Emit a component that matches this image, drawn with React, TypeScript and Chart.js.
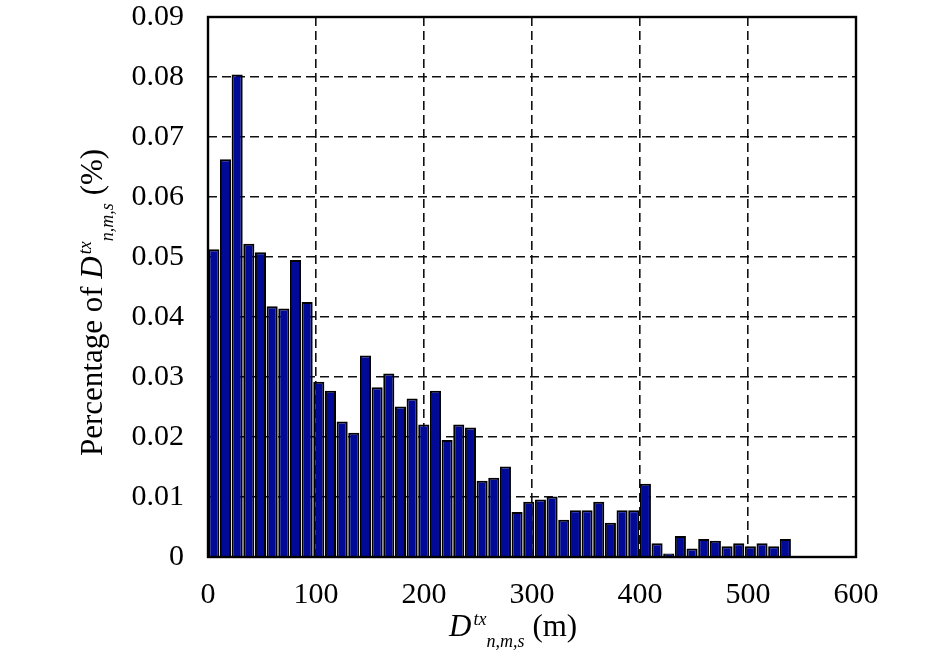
import { useEffect, useRef } from "react"
import { Chart, registerables } from "chart.js"

Chart.register(...registerables)

// bin centres (m) of the histogram, bins of 10.8 m
const binCenters = [
  5.4, 16.2, 27, 37.8, 48.6, 59.4, 70.2, 81, 91.8, 102.6,
  113.4, 124.2, 135, 145.8, 156.6, 167.4, 178.2, 189, 199.8, 210.6,
  221.4, 232.2, 243, 253.8, 264.6, 275.4, 286.2, 297, 307.8, 318.6,
  329.4, 340.2, 351, 361.8, 372.6, 383.4, 394.2, 405, 415.8, 426.6,
  437.4, 448.2, 459, 469.8, 480.6, 491.4, 502.2, 513, 523.8, 534.6,
]

const percentages = [
  0.0513, 0.0663, 0.0804, 0.0522, 0.0508, 0.0418, 0.0414, 0.0495, 0.0425, 0.0292,
  0.0277, 0.0226, 0.0207, 0.0336, 0.0283, 0.0306, 0.0251, 0.0264, 0.0221, 0.0277,
  0.0195, 0.0221, 0.0216, 0.0127, 0.0132, 0.0151, 0.0075, 0.0092, 0.0096, 0.0101,
  0.0062, 0.0078, 0.0078, 0.0092, 0.0057, 0.0078, 0.0078, 0.0122, 0.0023, 0.0006,
  0.0035, 0.0014, 0.003, 0.0027, 0.0018, 0.0023, 0.0018, 0.0023, 0.0018, 0.003,
]

const xTicks = [0, 100, 200, 300, 400, 500, 600]
const yTickLabels = ["0", "0.01", "0.02", "0.03", "0.04", "0.05", "0.06", "0.07", "0.08", "0.09"]

const FONT = "'Liberation Serif', 'Times New Roman', serif"

// draws prefix + italic D with superscript "tx" and subscript "n,m,s" + suffix, baseline at (0,0)
function drawSymbolLabel(ctx: CanvasRenderingContext2D, prefix: string, suffix: string) {
  let x = 0
  ctx.textBaseline = "alphabetic"
  ctx.textAlign = "left"
  ctx.font = `31px ${FONT}`
  ctx.fillText(prefix, x, 0)
  x += ctx.measureText(prefix).width
  ctx.font = `italic 31px ${FONT}`
  ctx.fillText("D", x, 0)
  x += ctx.measureText("D").width + 2
  ctx.font = `italic 18px ${FONT}`
  ctx.fillText("tx", x, -11)
  x += ctx.measureText("tx").width
  ctx.fillText("n,m,s", x, 11)
  x += ctx.measureText("n,m,s").width + 8
  ctx.font = `31px ${FONT}`
  ctx.fillText(suffix, x, 0)
}

const framePlugin = {
  id: "frameAndTitles",
  afterDraw(chart: Chart) {
    const { ctx, chartArea } = chart
    ctx.save()
    ctx.strokeStyle = "#000"
    ctx.lineWidth = 2.4
    ctx.strokeRect(chartArea.left, chartArea.top, chartArea.right - chartArea.left, chartArea.bottom - chartArea.top)
    ctx.fillStyle = "#000"

    // x axis title
    ctx.save()
    ctx.translate(449, 636)
    drawSymbolLabel(ctx, "", "(m)")
    ctx.restore()

    // y axis title
    ctx.save()
    ctx.translate(102, 456)
    ctx.rotate(-Math.PI / 2)
    drawSymbolLabel(ctx, "Percentage of ", "(%)")
    ctx.restore()

    ctx.restore()
  },
}

export default function App() {
  const canvasRef = useRef<HTMLCanvasElement>(null)
  const chartRef = useRef<Chart | null>(null)

  useEffect(() => {
    if (!canvasRef.current) return
    if (chartRef.current) chartRef.current.destroy()

    const points = binCenters.map((x, i) => ({ x, y: percentages[i] }))

    chartRef.current = new Chart(canvasRef.current, {
      type: "bar",
      data: {
        datasets: [
          {
            data: points,
            backgroundColor: "#000a96",
            borderColor: "#000",
            borderWidth: 2,
            barPercentage: 0.95,
            categoryPercentage: 1,
          },
        ],
      },
      options: {
        animation: false,
        responsive: true,
        maintainAspectRatio: false,
        layout: { padding: { top: 17, right: 89, left: 0, bottom: 0 } },
        plugins: {
          legend: { display: false },
          tooltip: { enabled: false },
        },
        scales: {
          x: {
            type: "linear",
            min: 0,
            max: 600,
            offset: false,
            afterBuildTicks: (scale: any) => {
              scale.ticks = xTicks.map((v) => ({ value: v }))
            },
            afterFit: (scale: any) => {
              scale.height = 104
              scale.paddingLeft = 0
              scale.paddingRight = 0
            },
            ticks: {
              color: "#000",
              font: { family: FONT, size: 30 },
              padding: 20,
              maxRotation: 0,
              callback: (v: any) => String(v),
            },
            grid: { color: "#111", lineWidth: 1.6, drawTicks: false, offset: false },
            border: { display: false, dash: [9, 5] },
          },
          y: {
            type: "linear",
            min: 0,
            max: 0.09,
            afterBuildTicks: (scale: any) => {
              scale.ticks = yTickLabels.map((l) => ({ value: parseFloat(l) }))
            },
            afterFit: (scale: any) => {
              scale.width = 208
              scale.paddingTop = 0
              scale.paddingBottom = 0
            },
            ticks: {
              color: "#000",
              font: { family: FONT, size: 30 },
              padding: 24,
              callback: (_v: any, i: number) => yTickLabels[i],
            },
            grid: { color: "#111", lineWidth: 1.6, drawTicks: false },
            border: { display: false, dash: [9, 5] },
          },
        },
      },
      plugins: [framePlugin],
    })

    return () => {
      if (chartRef.current) {
        chartRef.current.destroy()
        chartRef.current = null
      }
    }
  }, [])

  return (
    <div style={{ position: "fixed", left: 0, top: 0, width: 945, height: 661, background: "#fff" }}>
      <canvas ref={canvasRef} />
    </div>
  )
}
